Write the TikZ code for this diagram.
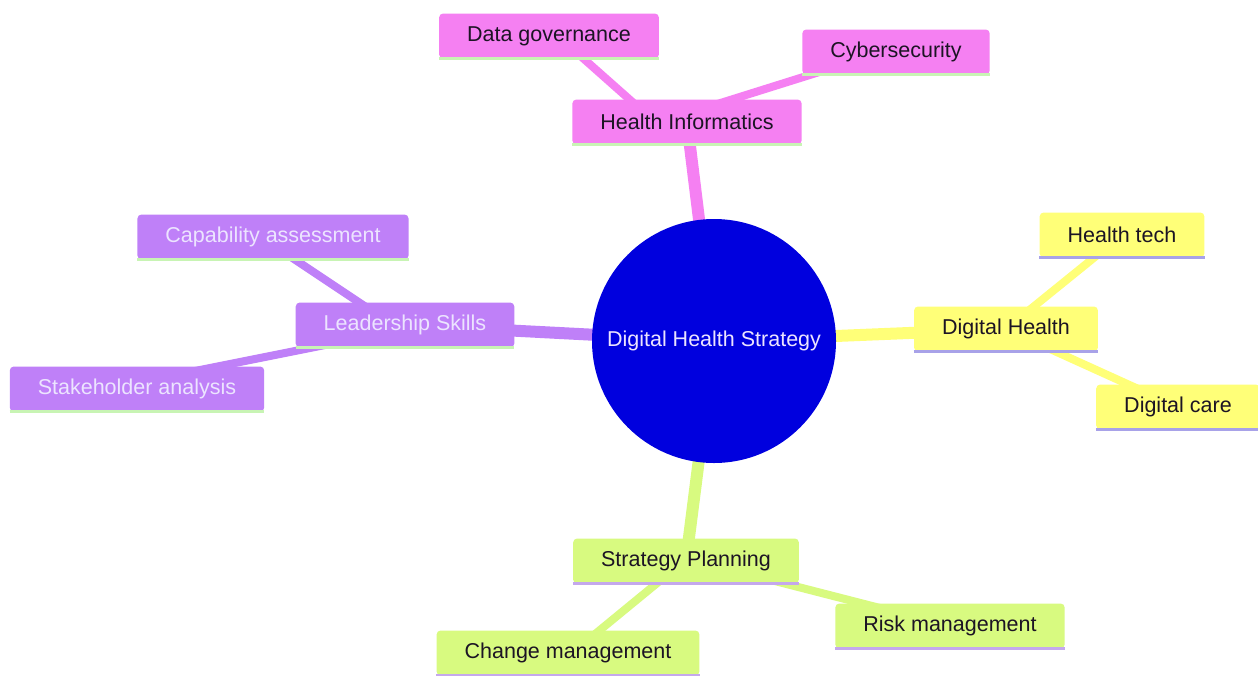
\documentclass[tikz,border=0pt]{standalone}
\usepackage{fontspec}
\setmainfont{Liberation Sans}
\usetikzlibrary{backgrounds}
\definecolor{pinkc}{RGB}{245,128,242}
\definecolor{purpc}{RGB}{191,128,248}
\definecolor{yellc}{RGB}{255,255,120}
\definecolor{greenc}{RGB}{216,250,128}
\definecolor{bluec}{RGB}{0,0,222}
\definecolor{lighttxt}{RGB}{236,228,255}
\definecolor{darktxt}{RGB}{28,20,36}
\definecolor{lgreenline}{RGB}{200,244,180}
\definecolor{lavline}{RGB}{168,162,232}
\definecolor{purline}{RGB}{196,168,236}
\begin{document}
\begin{tikzpicture}[x=1pt,y=-1pt,
  box/.style={rounded corners=4pt, inner xsep=28pt, inner ysep=0pt, minimum height=45pt,
    font=\fontsize{21.5}{24}\selectfont, text=darktxt},
  botline/.style={append after command={(\tikzlastnode.south west) edge[draw=#1, line width=3pt] (\tikzlastnode.south east)}},
  pinkbox/.style={box, fill=pinkc, botline=lgreenline},
  purpbox/.style={box, fill=purpc, text=lighttxt, botline=lgreenline},
  yellbox/.style={box, fill=yellc, botline=lavline},
  greenbox/.style={box, fill=greenc, botline=purline},
  mainlink/.style={line width=12pt},
  leaflink/.style={line width=8pt},
]
\useasboundingbox (0,0) rectangle (1258,675);

\node[circle, fill=bluec, minimum size=244pt, inner sep=0pt, text=lighttxt,
  font=\fontsize{21.5}{24}\selectfont] (c) at (714,341) {Digital Health Strategy};

\node[pinkbox] (hi) at (687,122) {Health Informatics};
\node[pinkbox] (dg) at (549,36) {Data governance};
\node[pinkbox] (cy) at (896,52) {Cybersecurity};

\node[purpbox] (ls) at (405,325) {Leadership Skills};
\node[purpbox] (ca) at (273,237) {Capability assessment};
\node[purpbox] (sa) at (137,389) {Stakeholder analysis};

\node[yellbox] (dh) at (1006,329) {Digital Health};
\node[yellbox] (ht) at (1122,235) {Health tech};
\node[yellbox] (dc) at (1178,407) {Digital care};

\node[greenbox] (sp) at (686,561) {Strategy Planning};
\node[greenbox] (rm) at (950,626) {Risk management};
\node[greenbox] (cm) at (568,653) {Change management};

\begin{pgfonlayer}{background}
\fill[white] (0,0) rectangle (1258,675);
\draw[mainlink, pinkc] (c.center) -- (hi.center);
\draw[mainlink, purpc] (c.center) -- (ls.center);
\draw[mainlink, yellc] (c.center) -- (dh.center);
\draw[mainlink, greenc] (c.center) -- (sp.center);

\draw[leaflink, pinkc] ([xshift=9pt]dg.center) -- ([xshift=-32pt]hi.center);
\draw[leaflink, pinkc] ([xshift=-13pt]cy.center) -- ([xshift=-27pt]hi.center);
\draw[leaflink, purpc] ([xshift=-12pt]ca.center) -- ([xshift=-12pt]ls.center);
\draw[leaflink, purpc] ([xshift=-32pt]sa.center) -- ([xshift=20pt]ls.center);
\draw[leaflink, yellc] (ht.center) -- (dh.center);
\draw[leaflink, yellc] (dh.center) -- (dc.center);
\draw[leaflink, greenc] ([xshift=4pt]cm.center) -- ([xshift=-2pt]sp.center);
\draw[leaflink, greenc] ([xshift=11pt]sp.center) -- (rm.center);
\end{pgfonlayer}
\end{tikzpicture}
\end{document}
